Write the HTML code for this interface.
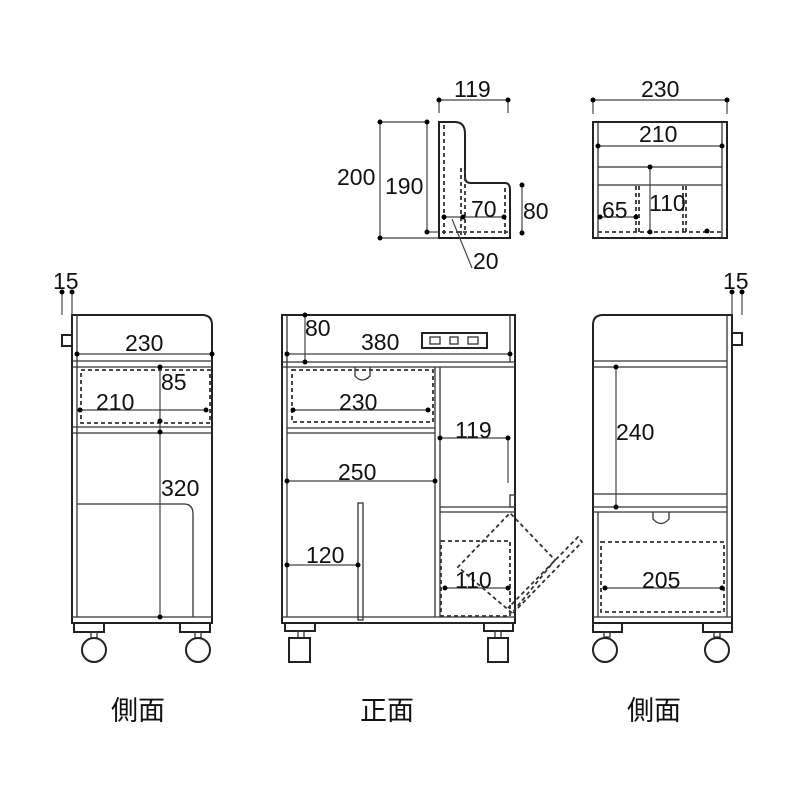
<!DOCTYPE html>
<html><head><meta charset="utf-8"><style>
html,body{margin:0;padding:0;background:#fff}
svg{display:block}
text{font-family:"Liberation Sans","Noto Sans CJK JP",sans-serif;fill:#111}
.n{font-size:23px}
.o{fill:none;stroke:#222;stroke-width:2}
.t{fill:none;stroke:#333;stroke-width:1.3}
.d{fill:none;stroke:#333;stroke-width:1.8;stroke-dasharray:4 3}
.dim{stroke:#444;stroke-width:1.2}
</style></head><body>
<svg width="800" height="800" viewBox="0 0 800 800" xmlns="http://www.w3.org/2000/svg">
<g>
<path class="o" d="M72 315 H202 Q212 315 212 325 V623 H72 Z"/>
<line class="t" x1="77" y1="315" x2="77" y2="617"/>
<rect class="o" x="62" y="335" width="10" height="11"/>
<line class="t" x1="72" y1="361" x2="212" y2="361"/><line class="t" x1="72" y1="367" x2="212" y2="367"/>
<line class="t" x1="72" y1="427" x2="212" y2="427"/><line class="t" x1="72" y1="433" x2="212" y2="433"/>
<line class="t" x1="72" y1="617" x2="212" y2="617"/>
<rect class="d" x="81" y="370" width="129" height="53"/>
<path class="t" d="M77 504 H184 Q193 504 193 514 V617"/>
<rect class="o" x="74" y="623" width="30" height="9"/><rect class="o" x="180" y="623" width="30" height="9"/>
<rect class="t" x="91" y="632" width="6" height="6"/><rect class="t" x="195" y="632" width="6" height="6"/>
<circle class="o" cx="94" cy="650" r="12"/><circle class="o" cx="198" cy="650" r="12"/>
<line class="dim" x1="62" y1="292" x2="62" y2="315"/><line class="dim" x1="72" y1="292" x2="72" y2="315"/>
<circle cx="62" cy="292" r="2.5"/><circle cx="72" cy="292" r="2.5"/>
<text class="n" x="53" y="289">15</text>
<line class="dim" x1="77" y1="354" x2="212" y2="354"/><circle cx="77" cy="354" r="2.5"/><circle cx="212" cy="354" r="2.5"/>
<text class="n" x="125" y="351">230</text>
<line class="dim" x1="80" y1="410" x2="206" y2="410"/><circle cx="80" cy="410" r="2.5"/><circle cx="206" cy="410" r="2.5"/>
<text class="n" x="96" y="410">210</text>
<line class="dim" x1="160" y1="367" x2="160" y2="617"/>
<circle cx="160" cy="367" r="2.5"/><circle cx="160" cy="421" r="2.5"/><circle cx="160" cy="432" r="2.5"/><circle cx="160" cy="617" r="2.5"/>
<text class="n" x="161" y="390">85</text>
<text class="n" x="161" y="496">320</text>
</g>
<g>
<rect class="o" x="282" y="315" width="233" height="308"/>
<line class="t" x1="287" y1="315" x2="287" y2="617"/><line class="t" x1="510" y1="315" x2="510" y2="362"/>
<line class="t" x1="282" y1="362" x2="515" y2="362"/><line class="t" x1="282" y1="367" x2="515" y2="367"/>
<rect class="o" x="422" y="333" width="65" height="15"/>
<rect class="t" x="430" y="337" width="10" height="7"/><rect class="t" x="450" y="337" width="8" height="7"/><rect class="t" x="468" y="337" width="10" height="7"/>
<rect class="d" x="292" y="370" width="141" height="52"/>
<path class="t" d="M355 367 V376 Q362 384 370 376 V367"/>
<line class="t" x1="287" y1="428" x2="435" y2="428"/><line class="t" x1="287" y1="433" x2="435" y2="433"/>
<line class="t" x1="435" y1="367" x2="435" y2="617"/><line class="t" x1="440" y1="367" x2="440" y2="617"/>
<rect class="t" x="510" y="495" width="5" height="12"/>
<line class="t" x1="440" y1="507" x2="515" y2="507"/><line class="t" x1="440" y1="512" x2="515" y2="512"/>
<rect class="t" x="358" y="503" width="5" height="117"/>
<line class="t" x1="282" y1="617" x2="515" y2="617"/>
<rect class="d" x="441" y="541" width="69" height="75"/>
<path class="d" d="M512 613 L458 567 L510 513 L555 560 Z"/>
<path class="d" d="M513 613 L582 542 L578 537 L508 608"/>
<rect class="o" x="285" y="623" width="30" height="8"/><rect class="t" x="298" y="631" width="6" height="7"/><rect class="o" x="289" y="638" width="21" height="24"/>
<rect class="o" x="484" y="623" width="29" height="8"/><rect class="t" x="495" y="631" width="6" height="7"/><rect class="o" x="488" y="638" width="20" height="24"/>
<line class="dim" x1="305" y1="315" x2="305" y2="362"/><circle cx="305" cy="315" r="2.5"/><circle cx="305" cy="362" r="2.5"/>
<text class="n" x="305" y="336">80</text>
<line class="dim" x1="287" y1="354" x2="510" y2="354"/><circle cx="287" cy="354" r="2.5"/><circle cx="510" cy="354" r="2.5"/>
<text class="n" x="361" y="350">380</text>
<line class="dim" x1="293" y1="410" x2="428" y2="410"/><circle cx="293" cy="410" r="2.5"/><circle cx="428" cy="410" r="2.5"/>
<text class="n" x="339" y="410">230</text>
<line class="dim" x1="440" y1="438" x2="508" y2="438"/><line class="dim" x1="508" y1="438" x2="508" y2="483"/><circle cx="440" cy="438" r="2.5"/><circle cx="508" cy="438" r="2.5"/>
<text class="n" x="455" y="438">119</text>
<line class="dim" x1="287" y1="481" x2="435" y2="481"/><circle cx="287" cy="481" r="2.5"/><circle cx="435" cy="481" r="2.5"/>
<text class="n" x="338" y="480">250</text>
<line class="dim" x1="287" y1="565" x2="358" y2="565"/><circle cx="287" cy="565" r="2.5"/><circle cx="358" cy="565" r="2.5"/>
<text class="n" x="306" y="563">120</text>
<line class="dim" x1="445" y1="588" x2="508" y2="588"/><circle cx="445" cy="588" r="2.5"/><circle cx="508" cy="588" r="2.5"/>
<text class="n" x="455" y="588">110</text>
</g>
<g>
<path class="o" d="M603 315 H732 V623 H593 V325 Q593 315 603 315 Z"/>
<line class="t" x1="727" y1="315" x2="727" y2="617"/>
<rect class="o" x="732" y="333" width="10" height="12"/>
<line class="t" x1="593" y1="361" x2="727" y2="361"/><line class="t" x1="593" y1="367" x2="727" y2="367"/>
<line class="t" x1="593" y1="494" x2="727" y2="494"/>
<line class="t" x1="593" y1="507" x2="727" y2="507"/><line class="t" x1="593" y1="512" x2="727" y2="512"/>
<line class="t" x1="598" y1="512" x2="598" y2="617"/>
<path class="t" d="M653 512 V519 Q661 528 669 519 V512"/>
<rect class="d" x="601" y="542" width="123" height="70"/>
<line class="t" x1="593" y1="617" x2="732" y2="617"/>
<rect class="o" x="593" y="623" width="29" height="9"/><rect class="o" x="703" y="623" width="29" height="9"/>
<rect class="t" x="604" y="632" width="6" height="5"/><rect class="t" x="714" y="632" width="6" height="5"/>
<circle class="o" cx="605" cy="650" r="12"/><circle class="o" cx="717" cy="650" r="12"/>
<line class="dim" x1="732" y1="292" x2="732" y2="315"/><line class="dim" x1="742" y1="292" x2="742" y2="315"/>
<circle cx="732" cy="292" r="2.5"/><circle cx="742" cy="292" r="2.5"/>
<text class="n" x="723" y="289">15</text>
<line class="dim" x1="616" y1="367" x2="616" y2="507"/><circle cx="616" cy="367" r="2.5"/><circle cx="616" cy="507" r="2.5"/>
<text class="n" x="616" y="440">240</text>
<line class="dim" x1="605" y1="588" x2="722" y2="588"/><circle cx="605" cy="588" r="2.5"/><circle cx="722" cy="588" r="2.5"/>
<text class="n" x="642" y="588">205</text>
</g>
<g>
<path class="o" d="M439 122 H455 Q465 122 465 134 V177 Q465 183 471 183 H505 Q510 183 510 190 V238 H439 Z"/>
<line class="d" x1="444" y1="125" x2="444" y2="235"/>
<line class="d" x1="461" y1="168" x2="461" y2="235"/><line class="d" x1="465" y1="170" x2="465" y2="235"/>
<line class="d" x1="505" y1="188" x2="505" y2="235"/>
<line class="d" x1="442" y1="232" x2="508" y2="232"/>
<line class="dim" x1="439" y1="100" x2="508" y2="100"/><line class="dim" x1="439" y1="100" x2="439" y2="113"/><line class="dim" x1="508" y1="100" x2="508" y2="113"/>
<circle cx="439" cy="100" r="2.5"/><circle cx="508" cy="100" r="2.5"/>
<text class="n" x="454" y="97">119</text>
<line class="dim" x1="380" y1="122" x2="427" y2="122"/><line class="dim" x1="380" y1="238" x2="439" y2="238"/>
<line class="dim" x1="380" y1="122" x2="380" y2="238"/><circle cx="380" cy="122" r="2.5"/><circle cx="380" cy="238" r="2.5"/>
<text class="n" x="337" y="185">200</text>
<line class="dim" x1="427" y1="122" x2="427" y2="232"/><line class="dim" x1="427" y1="232" x2="439" y2="232"/><circle cx="427" cy="122" r="2.5"/><circle cx="427" cy="232" r="2.5"/>
<text class="n" x="385" y="194">190</text>
<line class="dim" x1="522" y1="185" x2="522" y2="233"/><circle cx="522" cy="185" r="2.5"/><circle cx="522" cy="233" r="2.5"/>
<text class="n" x="523" y="219">80</text>
<line class="dim" x1="444" y1="217" x2="504" y2="217"/><circle cx="444" cy="217" r="2.5"/><circle cx="463" cy="217" r="2.5"/><circle cx="504" cy="217" r="2.5"/>
<text class="n" x="471" y="217">70</text>
<line class="dim" x1="452" y1="219" x2="472" y2="268"/>
<text class="n" x="473" y="269">20</text>
</g>
<g>
<rect class="o" x="593" y="122" width="134" height="116"/>
<line class="t" x1="598" y1="122" x2="598" y2="238"/><line class="t" x1="722" y1="122" x2="722" y2="238"/>
<line class="t" x1="598" y1="167" x2="722" y2="167"/><line class="t" x1="598" y1="185" x2="722" y2="185"/>
<line class="d" x1="636" y1="186" x2="636" y2="232"/><line class="d" x1="639" y1="186" x2="639" y2="232"/>
<line class="d" x1="683" y1="186" x2="683" y2="232"/><line class="d" x1="686" y1="186" x2="686" y2="232"/>
<line class="d" x1="598" y1="232" x2="722" y2="232"/>
<line class="dim" x1="593" y1="100" x2="727" y2="100"/><line class="dim" x1="593" y1="100" x2="593" y2="114"/><line class="dim" x1="727" y1="100" x2="727" y2="114"/>
<circle cx="593" cy="100" r="2.5"/><circle cx="727" cy="100" r="2.5"/>
<text class="n" x="641" y="97">230</text>
<line class="dim" x1="598" y1="146" x2="722" y2="146"/><circle cx="598" cy="146" r="2.5"/><circle cx="722" cy="146" r="2.5"/>
<text class="n" x="639" y="142">210</text>
<line class="dim" x1="650" y1="167" x2="650" y2="232"/><circle cx="650" cy="167" r="2.5"/><circle cx="650" cy="232" r="2.5"/><circle cx="707" cy="231" r="2.5"/>
<text class="n" x="649" y="211">110</text>
<line class="dim" x1="600" y1="217" x2="636" y2="217"/><circle cx="600" cy="217" r="2.5"/><circle cx="636" cy="217" r="2.5"/>
<text class="n" x="602" y="218">65</text>
</g>
<text x="111" y="720" font-size="27">側面</text>
<text x="360" y="720" font-size="27">正面</text>
<text x="627" y="720" font-size="27">側面</text>
</svg>
</body></html>
